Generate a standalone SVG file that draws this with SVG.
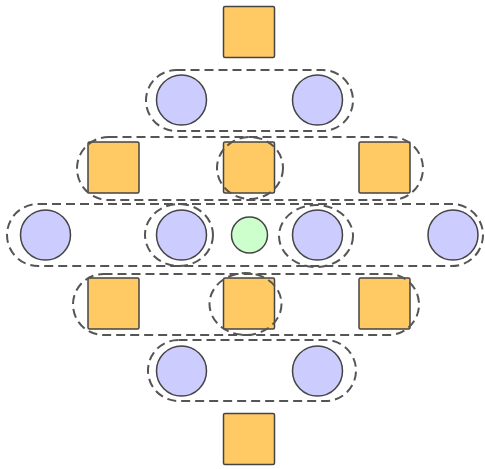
<svg xmlns="http://www.w3.org/2000/svg" width="485" height="469" viewBox="0 0 485 469">
<style>
.sq{fill:#ffc964;stroke:#444;stroke-width:1.5}
.ci{fill:#ccccff;stroke:#444;stroke-width:1.5}
.gr{fill:#ccffcc;stroke:#444;stroke-width:1.5}
.hull{fill:none;stroke:#555;stroke-width:2;stroke-dasharray:9 5}
</style>
<rect width="485" height="469" fill="#fff"/>
<g id="nodes">
<g id="s1"><rect class="sq" x="223.5" y="6.5" width="51" height="51" rx="1.5"/></g>
<g id="c1"><circle class="ci" cx="181.5" cy="100" r="25"/></g>
<g id="c2"><circle class="ci" cx="317.5" cy="100" r="25"/></g>
<g id="s2"><rect class="sq" x="88" y="142" width="51" height="51" rx="1.5"/></g>
<g id="s3"><rect class="sq" x="223.5" y="142" width="51" height="51" rx="1.5"/></g>
<g id="s4"><rect class="sq" x="359" y="142" width="51" height="51" rx="1.5"/></g>
<g id="c3"><circle class="ci" cx="45.5" cy="235" r="25"/></g>
<g id="c4"><circle class="ci" cx="181.5" cy="235" r="25"/></g>
<g id="g1"><circle class="gr" cx="249.5" cy="235" r="18"/></g>
<g id="c5"><circle class="ci" cx="317.5" cy="235" r="25"/></g>
<g id="c6"><circle class="ci" cx="453" cy="235" r="25"/></g>
<g id="s5"><rect class="sq" x="88" y="278" width="51" height="51" rx="1.5"/></g>
<g id="s6"><rect class="sq" x="223.5" y="278" width="51" height="51" rx="1.5"/></g>
<g id="s7"><rect class="sq" x="359" y="278" width="51" height="51" rx="1.5"/></g>
<g id="c7"><circle class="ci" cx="181.5" cy="371" r="25"/></g>
<g id="c8"><circle class="ci" cx="317.5" cy="371" r="25"/></g>
<g id="s8"><rect class="sq" x="223.5" y="413.5" width="51" height="51" rx="1.5"/></g>
</g>
<g id="connectors">
<rect class="hull" x="146" y="70" width="207" height="61" rx="30.5"/>
<rect class="hull" x="77" y="137" width="346" height="63" rx="31.5"/>
<ellipse class="hull" cx="250" cy="168" rx="33" ry="31"/>
<rect class="hull" x="7" y="204" width="476" height="62" rx="31"/>
<ellipse class="hull" cx="179" cy="235" rx="34" ry="31"/>
<ellipse class="hull" cx="316" cy="236" rx="37" ry="31"/>
<rect class="hull" x="73" y="274" width="346" height="61" rx="30.5"/>
<ellipse class="hull" cx="245.5" cy="304" rx="36" ry="31"/>
<rect class="hull" x="148" y="340" width="208" height="61" rx="30.5"/>
</g>
</svg>
